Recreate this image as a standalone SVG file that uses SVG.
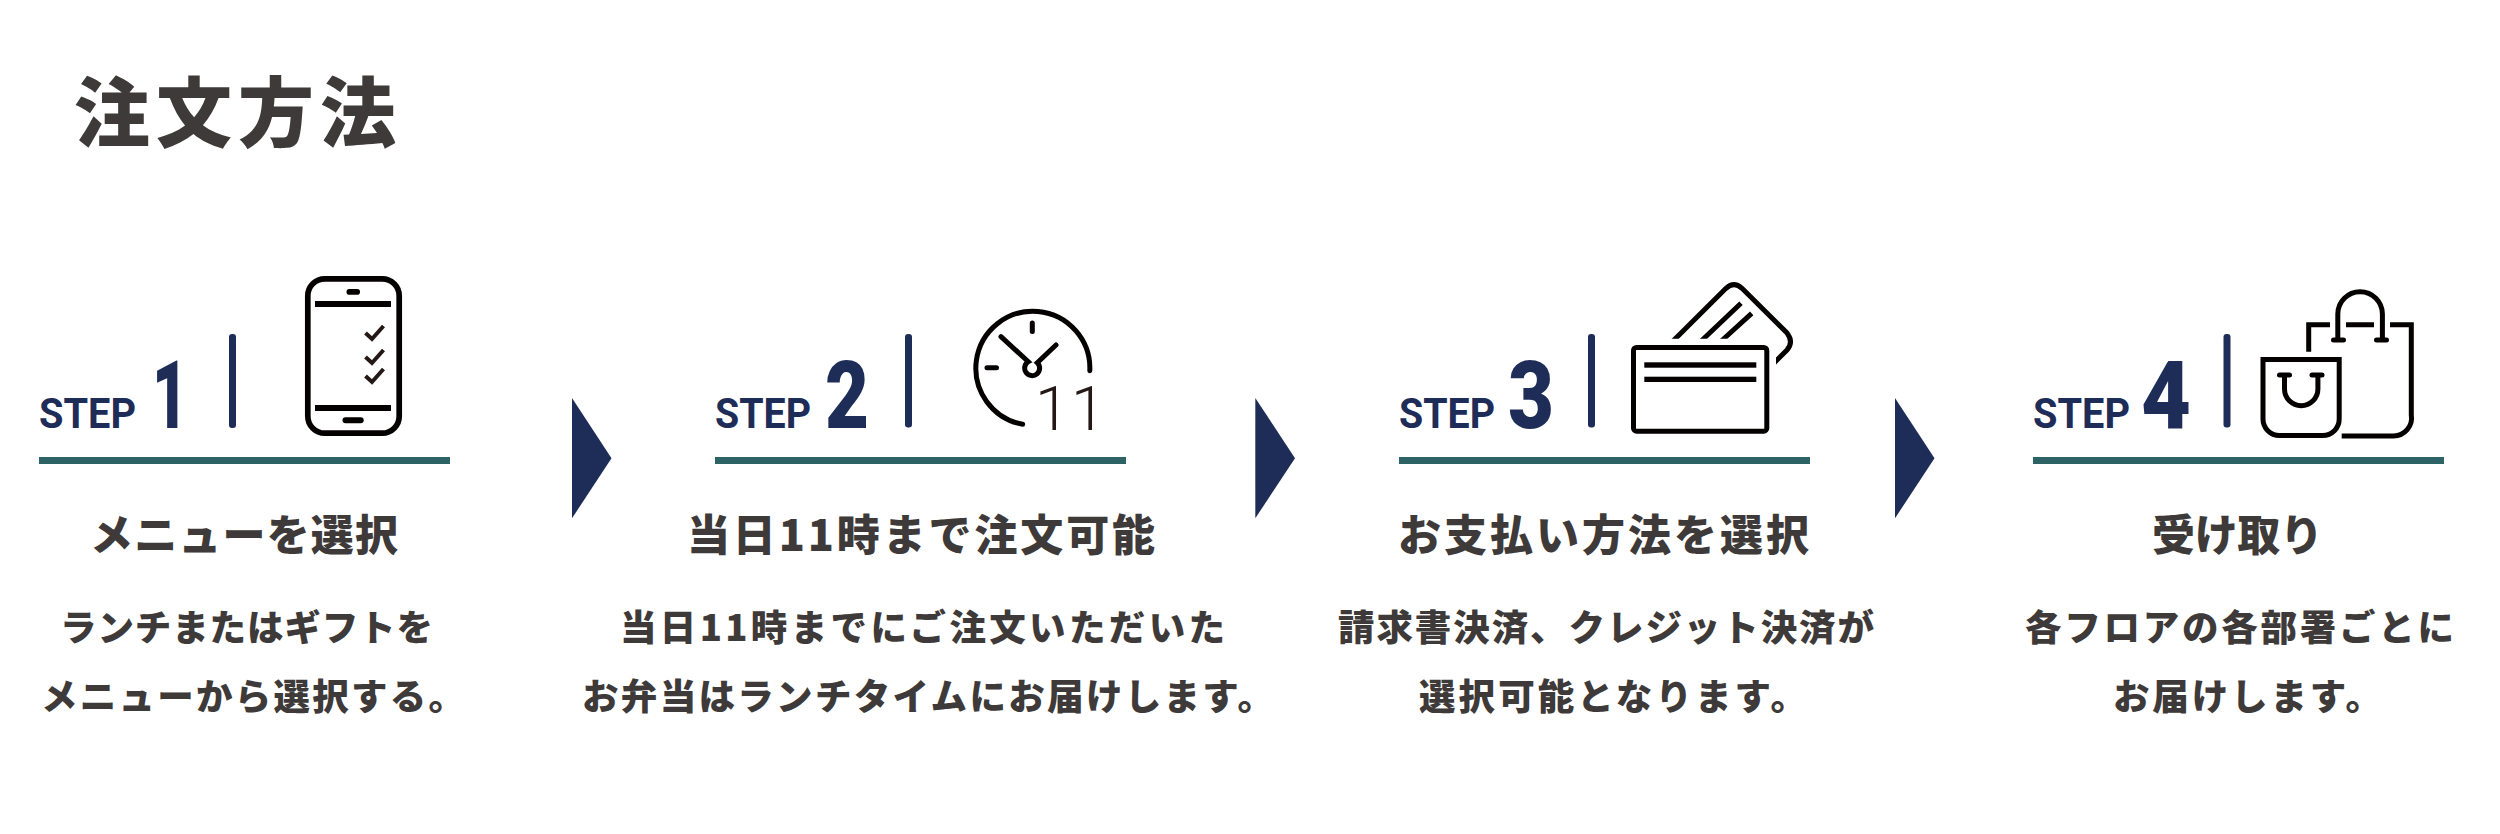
<svg xmlns="http://www.w3.org/2000/svg" width="2500" height="834" viewBox="0 0 2500 834">
<style>
text{font-family:"Noto Sans CJK JP","Noto Sans",sans-serif;font-weight:900;fill:#3e3a39}
.h{font-size:43px}
.b{font-size:36.500px}
.t{font-size:76px}
.s{font-family:"Roboto","Liberation Sans",sans-serif;font-weight:700;font-size:42px;fill:#1e2c58}
.n{font-family:"Roboto","Liberation Sans",sans-serif;font-weight:900;font-size:94px;fill:#1e2c58}
.rule{fill:#2d6364}
.div{fill:#1e2c58}
.ic{fill:none;stroke:#040000;stroke-width:5}
.rc{stroke-linecap:round}
.chk{fill:none;stroke:#231815;stroke-width:4}
.fill{fill:#040000}
.arrow{fill:#1e2c58}
</style>
<defs>
<clipPath id="c3"><path d="M1660 280H1800V372H1776V338.700H1660Z"/></clipPath>
</defs>
<rect width="2500" height="834" fill="#fff"/>
<text id="title" class="t" x="74" y="141" textLength="322">注文方法</text>
<g id="connectors">
<path class="arrow" d="M572 398L611.500 458.300L572 518.300Z"/>
<path class="arrow" d="M1255.300 398L1295 458.300L1255.300 518.300Z"/>
<path class="arrow" d="M1895 398L1934.500 458.300L1895 518.300Z"/>
</g>
<g id="step1">
<text class="s" x="39" y="428" textLength="97" lengthAdjust="spacingAndGlyphs">STEP</text>
<text class="n" x="152" y="428" textLength="36" lengthAdjust="spacingAndGlyphs">1</text>
<rect class="div" x="229" y="334" width="7" height="94" rx="3"/>
<g>
<rect class="ic" x="307.800" y="278.800" width="91.400" height="154.400" rx="17" style="stroke-width:5.700"/>
<rect class="fill" x="315" y="301" width="76" height="6"/>
<rect class="fill" x="315" y="405" width="76" height="6"/>
<rect class="fill" x="346.500" y="289" width="13.500" height="5.700" rx="2.800"/>
<rect class="fill" x="342.500" y="417.300" width="21.200" height="6" rx="3"/>
<path class="chk" d="M365.500 333L372 339L383.500 326M365.500 357L372 363L383.500 350M365.500 376L372 382L383.500 369"/>
</g>
<rect class="rule" x="39" y="457" width="411" height="7"/>
<text class="h" x="90" y="551" textLength="308">メニューを選択</text>
<text class="b" x="60" y="641" textLength="373">ランチまたはギフトを</text>
<text class="b" x="41" y="710" textLength="424">メニューから選択する。</text>
</g>
<g id="step2">
<text class="s" x="715" y="427.500" textLength="96" lengthAdjust="spacingAndGlyphs">STEP</text>
<text class="n" x="825" y="427.500" textLength="44" lengthAdjust="spacingAndGlyphs">2</text>
<rect class="div" x="905" y="334" width="7" height="93.500" rx="3"/>
<g>
<path class="ic rc" d="M1022.700 424.300A57 57 0 1 1 1089.800 370.700M1032.300 323V331.500M987 367.700H996.500M1001 336.700L1028.300 361.700A7.500 7.500 0 1 0 1037.300 362.700L1056 345"/>
<text x="1035 1071" y="430" style="font-family:Roboto,sans-serif;font-weight:300;font-size:62px;fill:#231815">11</text>
</g>
<rect class="rule" x="715" y="457" width="411" height="7"/>
<text class="h" x="687" y="551" textLength="468">当日11時まで注文可能</text>
<text class="b" x="620" y="641" textLength="605">当日11時までにご注文いただいた</text>
<text class="b" x="582" y="710" textLength="692">お弁当はランチタイムにお届けします。</text>
</g>
<g id="step3">
<text class="s" x="1399" y="427.500" textLength="96" lengthAdjust="spacingAndGlyphs">STEP</text>
<text class="n" x="1508" y="427.500" textLength="46" lengthAdjust="spacingAndGlyphs">3</text>
<rect class="div" x="1588" y="334" width="7" height="93.500" rx="3"/>
<g>
<g clip-path="url(#c3)">
<path class="ic" d="M1668 346L1726 288.300Q1734 281 1742 288.300L1787 333Q1794 342 1787 350L1770 367M1698 344L1741 303.300M1718 344L1751.700 313.300"/>
</g>
<rect class="ic" x="1633.500" y="347.500" width="133.300" height="83.700" rx="3"/>
<rect class="fill" x="1644.300" y="362.300" width="112" height="5.400"/>
<rect class="fill" x="1644.300" y="376.700" width="112" height="5.300"/>
</g>
<rect class="rule" x="1399" y="457" width="411" height="7"/>
<text class="h" x="1398" y="551" textLength="411">お支払い方法を選択</text>
<text class="b" x="1338" y="641" textLength="536">請求書決済、クレジット決済が</text>
<text class="b" x="1419" y="710" textLength="388">選択可能となります。</text>
</g>
<g id="step4">
<text class="s" x="2033" y="427.500" textLength="97" lengthAdjust="spacingAndGlyphs">STEP</text>
<text class="n" x="2141" y="427.500" textLength="50" lengthAdjust="spacingAndGlyphs">4</text>
<rect class="div" x="2223.500" y="334" width="7" height="93.500" rx="3"/>
<g>
<path class="ic" d="M2263 359.500H2339.200V419A16.500 16.500 0 0 1 2322.700 435.500H2279.500A16.500 16.500 0 0 1 2263 419Z"/>
<path class="ic rc" d="M2279.500 375H2289.500M2312 375H2322M2284.500 375V389A16.700 16.700 0 0 0 2317.900 389V375"/>
<path class="ic" d="M2308.700 351.700V324.800H2330M2346 324.800H2374M2390 324.800H2411.300V415A18 18 0 0 1 2393.300 436H2341.700"/>
<path class="ic rc" d="M2333.500 340H2343.500M2376.500 340H2386.500M2337.800 340V314A22.300 22.300 0 0 1 2382.400 314V340"/>
</g>
<rect class="rule" x="2033" y="457" width="411" height="7"/>
<text class="h" x="2152" y="551" textLength="171">受け取り</text>
<text class="b" x="2025" y="641" textLength="429">各フロアの各部署ごとに</text>
<text class="b" x="2113" y="710" textLength="269">お届けします。</text>
</g>
</svg>
